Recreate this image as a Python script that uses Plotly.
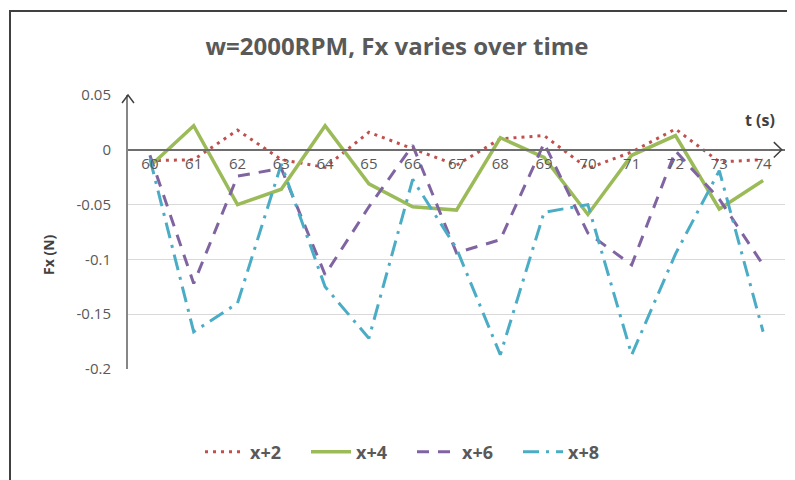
import plotly.graph_objects as go

# time (s) categories
times = ["60", "61", "62", "63", "64", "65", "66", "67", "68", "69", "70", "71", "72", "73", "74"]

# Fx (N) per sensor position
fx_x2 = [-0.010, -0.009, 0.018, -0.009, -0.016, 0.016, 0.001, -0.014, 0.010, 0.013, -0.017, -0.002, 0.019, -0.011, -0.009]
fx_x4 = [-0.015, 0.022, -0.050, -0.036, 0.022, -0.031, -0.052, -0.055, 0.011, -0.007, -0.059, -0.005, 0.013, -0.054, -0.028]
fx_x6 = [-0.005, -0.122, -0.024, -0.017, -0.114, -0.052, 0.004, -0.094, -0.082, 0.006, -0.076, -0.105, -0.001, -0.045, -0.105]
fx_x8 = [-0.008, -0.166, -0.140, -0.013, -0.125, -0.172, -0.027, -0.090, -0.187, -0.057, -0.050, -0.187, -0.095, -0.019, -0.166]

y_ticks = [0.05, 0, -0.05, -0.1, -0.15, -0.2]
y_tick_text = ["0.05", "0", "-0.05", "-0.1", "-0.15", "-0.2"]

FONT = "Open Sans"
GREY = "#595959"

series = [
    ("x+2", fx_x2, "#C0504D", "3px,5px", 3),
    ("x+4", fx_x4, "#9BBB59", "solid", 3.5),
    ("x+6", fx_x6, "#8064A2", "12px,9px", 3),
    ("x+8", fx_x8, "#4BACC6", "16px,7px,3px,7px", 3),
]

fig = go.Figure()
for name, vals, color, dash, width in series:
    fig.add_trace(go.Scatter(
        x=times, y=vals, name=name, mode="lines",
        line=dict(color=color, dash=dash, width=width),
    ))

# page body has an 8px margin, so margins are shifted to land the plot at 128..785 x 95..369
fig.update_layout(
    width=795, height=480,
    margin=dict(l=120, r=18, t=87, b=119),
    paper_bgcolor="white", plot_bgcolor="white",
    font=dict(family=FONT, color=GREY),
    title=dict(
        text="<b>w=2000RPM, Fx varies over time</b>",
        x=(397 - 8) / 795, xanchor="center", y=1 - 39 / 480, yanchor="middle",
        font=dict(size=24, color=GREY),
    ),
    legend=dict(
        orientation="h", x=(412 - 128) / 657, xanchor="center", y=-0.303, yanchor="middle",
        entrywidth=51, itemwidth=40,
        font=dict(size=18, color=GREY, weight="bold"),
    ),
    showlegend=True,
)

fig.update_xaxes(
    type="category", range=[-0.5, 14.5],
    anchor="free", position=0.8,
    showline=True, linecolor="#6e6e6e", linewidth=1.5,
    showgrid=False, zeroline=False, ticks="",
    tickfont=dict(size=15, color=GREY),
)
fig.update_yaxes(
    range=[-0.2, 0.05],
    tickvals=y_ticks, ticktext=y_tick_text,
    showline=True, linecolor="#868686", linewidth=2,
    showgrid=True, gridcolor="#D9D9D9", gridwidth=1,
    zeroline=False, ticks="", ticklabelstandoff=12,
    tickfont=dict(size=15, color=GREY),
)

# axis arrows
fig.add_shape(type="path", xref="x domain", yref="y domain",
              path="M -0.0091,0.971 L 0,1 L 0.0091,0.971",
              line=dict(color="#404040", width=1.5))
fig.add_shape(type="path", xref="x domain", yref="y domain",
              path="M 0.983,0.828 L 0.995,0.8 L 0.983,0.772",
              line=dict(color="#404040", width=1.5))

fig.add_annotation(text="<b>t (s)</b>", xref="paper", yref="paper",
                   x=(760 - 128) / 657, y=(369 - 120) / 274,
                   xanchor="center", yanchor="middle",
                   showarrow=False, font=dict(size=16, color="#404040"))
fig.add_annotation(text="<b>Fx (N)</b>", xref="paper", yref="paper",
                   x=(48 - 128) / 657, y=(369 - 255) / 274, textangle=-90,
                   xanchor="center", yanchor="middle",
                   showarrow=False, font=dict(size=14, color="#404040"))

# chart frame
fig.add_shape(type="rect", xref="paper", yref="paper",
              x0=(10 - 128) / 657, x1=(805 - 128) / 657,
              y0=(369 - 490) / 274, y1=(369 - 11) / 274,
              line=dict(color="#404040", width=2), layer="below")

fig.write_html("out.html")
